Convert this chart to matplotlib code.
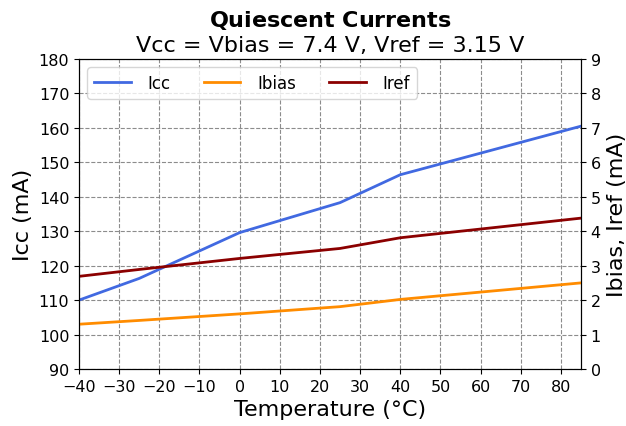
import matplotlib
matplotlib.use("Agg")
import matplotlib.pyplot as plt

temps = [-40, -25, 0, 25, 40, 85]
icc = [110.0, 116.3, 129.6, 138.3, 146.4, 160.5]
ibias = [1.30, 1.41, 1.60, 1.81, 2.02, 2.50]
iref = [2.69, 2.89, 3.21, 3.50, 3.81, 4.38]

fig = plt.figure(figsize=(6.26, 4.27), dpi=100)
ax = fig.add_axes([79/626, 1-370/427, (581-79)/626, (370-60)/427])
ax2 = ax.twinx()

l1, = ax.plot(temps, icc, color="royalblue", lw=2, label="Icc")
l2, = ax2.plot(temps, ibias, color="darkorange", lw=2, label="Ibias")
l3, = ax2.plot(temps, iref, color="darkred", lw=2, label="Iref")

ax.set_xlim(-40, 85)
ax.set_ylim(90, 180)
ax2.set_ylim(0, 9)
ax.set_xticks(range(-40, 90, 10))
ax.set_yticks(range(90, 181, 10))
ax2.set_yticks(range(0, 10))
ax.tick_params(labelsize=11.5)
ax2.tick_params(labelsize=11.5)
ax.grid(True, linestyle="--", color="gray", alpha=0.9)

ax.set_xlabel("Temperature (°C)", fontsize=16, labelpad=4)
ax.set_ylabel("Icc (mA)", fontsize=16)
ax2.set_ylabel("Ibias, Iref (mA)", fontsize=16)
ax.set_title(r"$\bf{Quiescent\ Currents}$" + "\n" + "Vcc = Vbias = 7.4 V, Vref = 3.15 V",
             fontsize=16, linespacing=1.2, pad=6)

ax2.legend([l1, l2, l3], ["Icc", "Ibias", "Iref"], ncol=3, loc="upper left", fontsize=12,
           handlelength=2.2, handletextpad=1.0)

fig.savefig("out.png", dpi=100)
